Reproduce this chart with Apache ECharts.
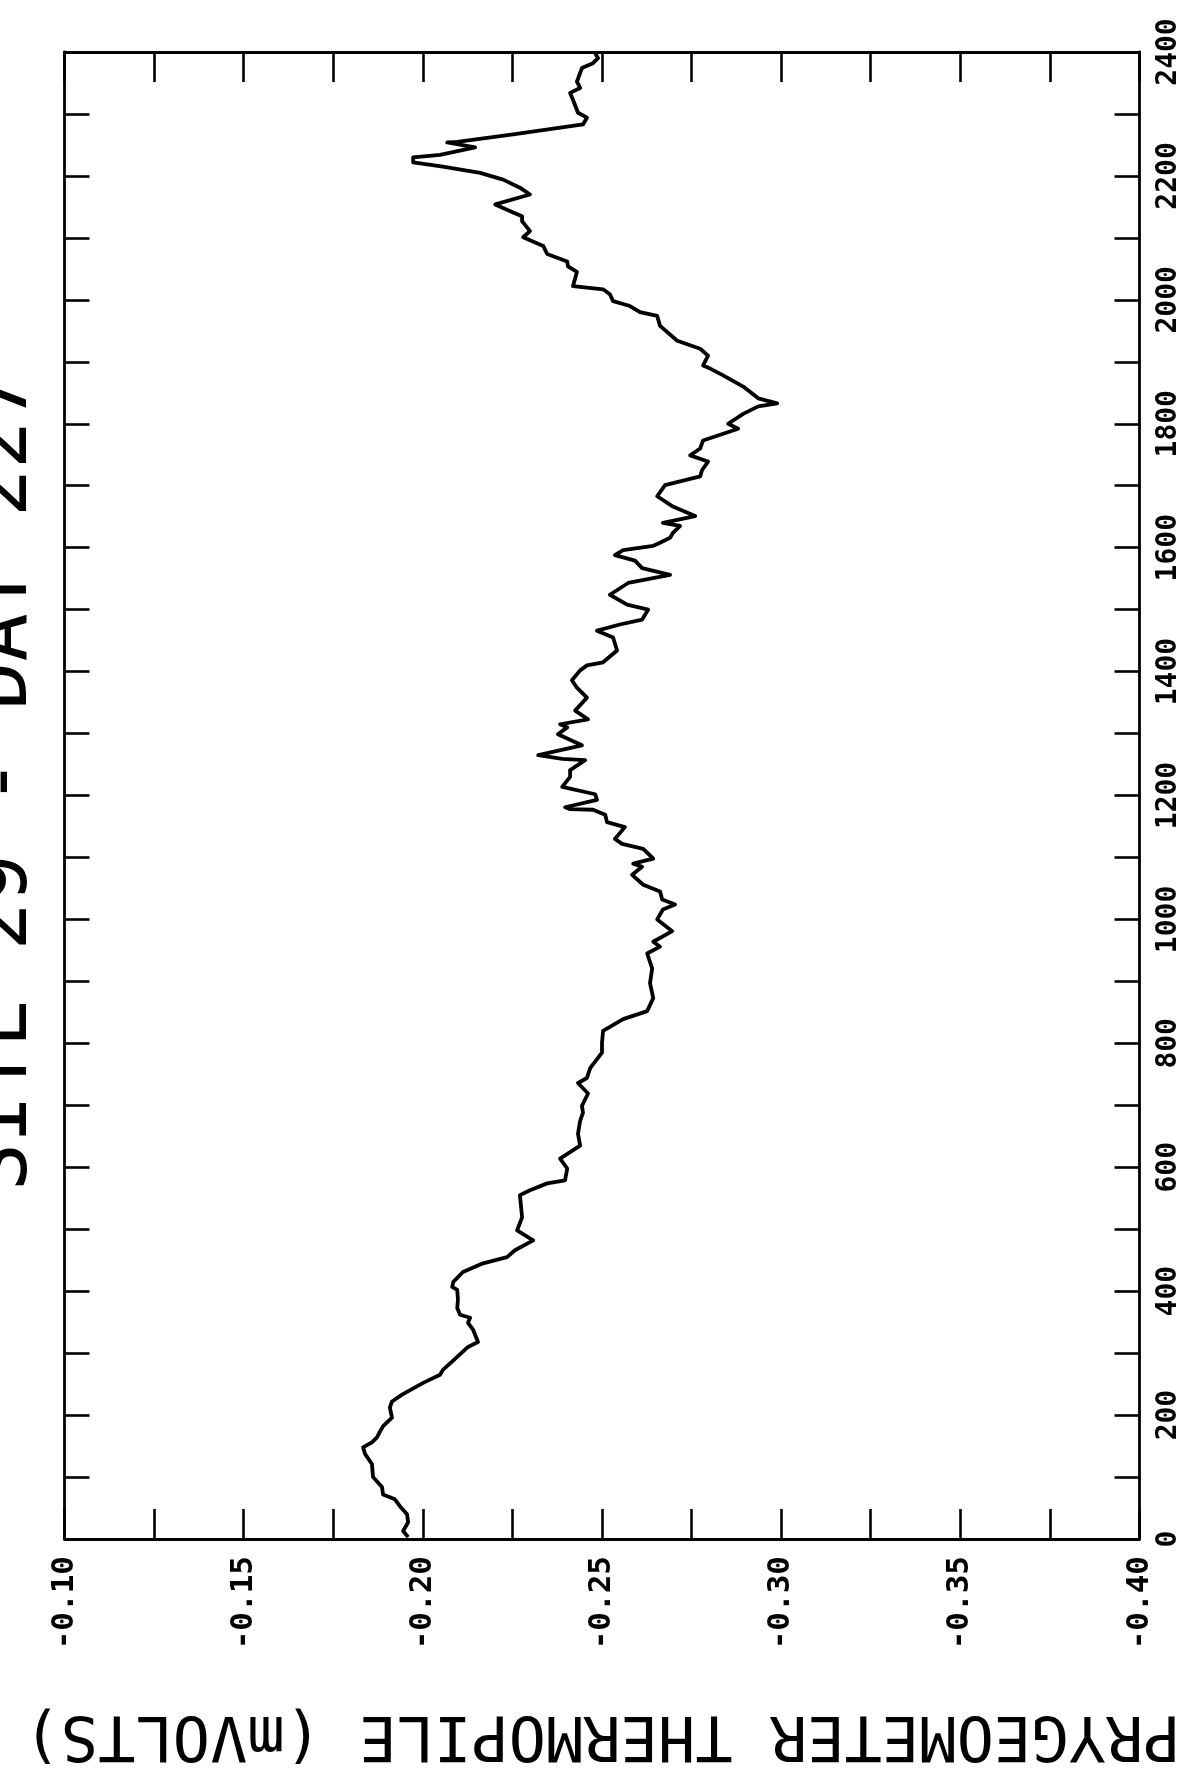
<!DOCTYPE html>
<html>
<head>
<meta charset="utf-8">
<script src="https://cdn.jsdelivr.net/npm/echarts@6/dist/echarts.min.js"></script>
<style>
  html, body { margin: 0; padding: 0; background: #fff; }
  #chart { width: 1197px; height: 1769px; }
</style>
</head>
<body>
<div id="chart"></div>
<script>
// Pyrgeometer thermopile output over the day (hour of day, hhmm)
const hours = [
  3, 13, 27, 40, 53, 64, 72, 84, 100, 121,
  137, 148, 156, 164, 174, 182, 196, 212, 222, 233,
  252, 265, 273, 294, 310, 318, 338, 349, 357, 362,
  373, 386, 402, 407, 415, 431, 445, 455, 466, 482,
  498, 519, 555, 563, 574, 579, 598, 614, 635, 654,
  675, 688, 699, 719, 736, 744, 760, 785, 801, 820,
  839, 852, 873, 897, 921, 945, 956, 964, 981, 1000,
  1016, 1024, 1032, 1045, 1056, 1072, 1085, 1090, 1098, 1114,
  1122, 1130, 1149, 1157, 1169, 1177, 1178, 1181, 1193, 1202,
  1214, 1230, 1241, 1257, 1259, 1265, 1281, 1299, 1310, 1315,
  1323, 1337, 1358, 1374, 1386, 1402, 1410, 1415, 1434, 1455,
  1466, 1476, 1484, 1500, 1508, 1524, 1543, 1556, 1567, 1579,
  1588, 1596, 1603, 1608, 1616, 1624, 1635, 1640, 1651, 1667,
  1683, 1701, 1715, 1725, 1739, 1749, 1760, 1773, 1792, 1800,
  1816, 1828, 1833, 1841, 1860, 1878, 1889, 1894, 1910, 1921,
  1934, 1958, 1974, 1980, 1990, 1998, 2009, 2017, 2022, 2045,
  2054, 2062, 2074, 2087, 2101, 2111, 2127, 2135, 2141, 2154,
  2170, 2181, 2194, 2205, 2215, 2222, 2230, 2234, 2246, 2254,
  2255, 2267, 2283, 2294, 2302, 2323, 2334, 2342, 2352, 2374,
  2382, 2390, 2398
];

// Thermopile voltage (mV) at each of the hours above
const millivolts = [
  -0.1959, -0.1945, -0.1959, -0.1956, -0.1936, -0.1922, -0.1889, -0.1886, -0.1861, -0.1858,
  -0.1839, -0.1833, -0.1858, -0.1872, -0.1881, -0.1889, -0.1914, -0.1908, -0.1914, -0.1942,
  -0.2001, -0.2048, -0.2056, -0.2096, -0.2126, -0.2154, -0.2140, -0.2126, -0.2132, -0.2104,
  -0.2096, -0.2098, -0.2096, -0.2082, -0.2085, -0.2112, -0.2168, -0.2235, -0.2257, -0.2308,
  -0.2263, -0.2277, -0.2271, -0.2299, -0.2347, -0.2397, -0.2403, -0.2383, -0.2439, -0.2433,
  -0.2439, -0.2447, -0.2444, -0.2461, -0.2433, -0.2458, -0.2467, -0.2500, -0.2500, -0.2503,
  -0.2559, -0.2626, -0.2643, -0.2634, -0.2640, -0.2626, -0.2662, -0.2643, -0.2696, -0.2654,
  -0.2670, -0.2704, -0.2668, -0.2662, -0.2615, -0.2584, -0.2612, -0.2587, -0.2643, -0.2615,
  -0.2556, -0.2536, -0.2564, -0.2514, -0.2509, -0.2475, -0.2411, -0.2397, -0.2486, -0.2481,
  -0.2389, -0.2411, -0.2411, -0.2453, -0.2389, -0.2322, -0.2444, -0.2377, -0.2403, -0.2383,
  -0.2461, -0.2425, -0.2458, -0.2430, -0.2416, -0.2439, -0.2458, -0.2503, -0.2542, -0.2531,
  -0.2486, -0.2550, -0.2612, -0.2629, -0.2570, -0.2522, -0.2573, -0.2690, -0.2612, -0.2592,
  -0.2536, -0.2559, -0.2643, -0.2662, -0.2690, -0.2698, -0.2718, -0.2670, -0.2760, -0.2696,
  -0.2654, -0.2676, -0.2774, -0.2779, -0.2796, -0.2746, -0.2774, -0.2782, -0.2880, -0.2852,
  -0.2894, -0.2936, -0.2989, -0.2936, -0.2894, -0.2838, -0.2802, -0.2782, -0.2796, -0.2774,
  -0.2710, -0.2662, -0.2654, -0.2606, -0.2578, -0.2531, -0.2522, -0.2503, -0.2419, -0.2430,
  -0.2405, -0.2403, -0.2347, -0.2336, -0.2280, -0.2299, -0.2277, -0.2277, -0.2252, -0.2202,
  -0.2299, -0.2271, -0.2224, -0.2160, -0.2056, -0.1973, -0.1973, -0.2048, -0.2146, -0.2068,
  -0.2096, -0.2252, -0.2447, -0.2458, -0.2433, -0.2419, -0.2411, -0.2439, -0.2430, -0.2444,
  -0.2475, -0.2489, -0.2481
];

// Axis tick values
const voltTicks = [-0.40, -0.35, -0.30, -0.25, -0.20, -0.15, -0.10];
const hourTicks = [0, 200, 400, 600, 800, 1000, 1200, 1400, 1600, 1800, 2000, 2200, 2400];

const titleText = 'SITE 29 - DAY 227';
const voltAxisName = 'PRYGEOMETER THERMOPILE (mVOLTS)';

const FONT = 'DejaVu Sans Mono';
const INK = '#000';

const chart = echarts.init(document.getElementById('chart'), null, { renderer: 'canvas' });

const voltAxisBase = {
  type: 'value',
  min: voltTicks[0],
  max: voltTicks[voltTicks.length - 1],
  interval: 0.05,
  inverse: true,
  axisLine: { show: true, onZero: false, lineStyle: { color: INK, width: 2.8 } },
  axisTick: { show: true, inside: true, length: 30, lineStyle: { color: INK, width: 2.6 } },
  minorTick: { show: true, splitNumber: 2, length: 30, lineStyle: { color: INK, width: 2.6 } },
  splitLine: { show: false },
  minorSplitLine: { show: false }
};

const hourAxisBase = {
  type: 'value',
  min: hourTicks[0],
  max: hourTicks[hourTicks.length - 1],
  interval: 200,
  axisLine: { show: true, onZero: false, lineStyle: { color: INK, width: 2.8 } },
  axisTick: { show: true, inside: true, length: 25, lineStyle: { color: INK, width: 2.6 } },
  minorTick: { show: true, splitNumber: 2, length: 25, lineStyle: { color: INK, width: 2.6 } },
  splitLine: { show: false },
  minorSplitLine: { show: false }
};

const series = hours.map((h, i) => [millivolts[i], h]);

chart.setOption({
  animation: false,
  backgroundColor: '#fff',
  grid: { left: 64.5, right: 57.5, top: 52, bottom: 224, containLabel: false },
  xAxis: [
    Object.assign({}, voltAxisBase, {
      position: 'bottom',
      name: voltAxisName,
      nameLocation: 'middle',
      nameRotate: 180,
      nameGap: 163,
      nameTextStyle: { fontFamily: FONT, fontSize: 62, color: INK },
      axisLabel: {
        show: true,
        rotate: 90,
        margin: 17,
        fontFamily: FONT,
        fontSize: 31,
        fontWeight: 'bold',
        color: INK,
        formatter: v => v.toFixed(2)
      }
    }),
    Object.assign({}, voltAxisBase, {
      position: 'top',
      axisLabel: { show: false }
    })
  ],
  yAxis: [
    Object.assign({}, hourAxisBase, {
      position: 'right',
      axisLabel: {
        show: true,
        rotate: 90,
        margin: 15,
        fontFamily: FONT,
        fontSize: 28,
        fontWeight: 'bold',
        color: INK,
        formatter: v => String(v)
      }
    }),
    Object.assign({}, hourAxisBase, {
      position: 'left',
      axisLabel: { show: false }
    })
  ],
  graphic: [
    {
      type: 'text',
      x: 5,
      y: 782,
      rotation: Math.PI / 2,
      style: {
        text: titleText,
        fontFamily: FONT,
        fontSize: 80,
        fill: INK,
        textAlign: 'center',
        textVerticalAlign: 'middle'
      }
    }
  ],
  series: [
    {
      type: 'line',
      xAxisIndex: 0,
      yAxisIndex: 0,
      data: series,
      showSymbol: false,
      symbol: 'none',
      smooth: false,
      lineStyle: { color: INK, width: 3.8, join: 'round' }
    }
  ]
});
</script>
</body>
</html>
